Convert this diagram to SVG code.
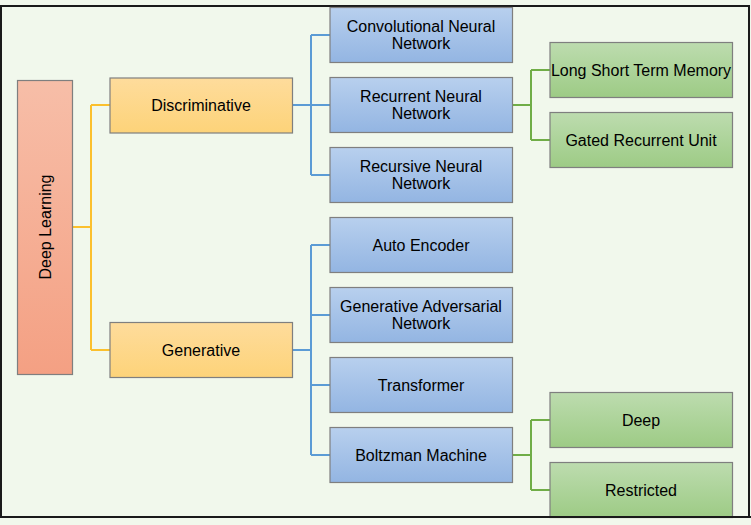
<svg xmlns="http://www.w3.org/2000/svg" width="751" height="525" viewBox="0 0 751 525">
<defs>
<linearGradient id="gR" x1="0" y1="0" x2="0" y2="1"><stop offset="0" stop-color="#f7bea8"/><stop offset="1" stop-color="#f4a083"/></linearGradient>
<linearGradient id="gY" x1="0" y1="0" x2="0" y2="1"><stop offset="0" stop-color="#fedc9c"/><stop offset="1" stop-color="#fdd379"/></linearGradient>
<linearGradient id="gB" x1="0" y1="0" x2="0" y2="1"><stop offset="0" stop-color="#b8d0ee"/><stop offset="1" stop-color="#93b5e2"/></linearGradient>
<linearGradient id="gG" x1="0" y1="0" x2="0" y2="1"><stop offset="0" stop-color="#bddcaf"/><stop offset="1" stop-color="#9dcb85"/></linearGradient>
<style>
.b{stroke:#7f7f7f;stroke-width:1.2}
.r{fill:url(#gR)}.y{fill:url(#gY)}.bl{fill:url(#gB)}.g{fill:url(#gG)}
text{font-family:"Liberation Sans",Arial,sans-serif;font-size:16px;fill:#000;text-anchor:middle}
.c{fill:none;stroke-width:2}
.cy{stroke:#fbc02d}.cb{stroke:#5b9bd5}.cg{stroke:#70ad47}
</style>
</defs>
<rect x="0" y="0" width="751" height="525" fill="#f1f8ec"/>
<rect x="1" y="6" width="748" height="511" fill="#f1f8ec" stroke="#1a1a1a" stroke-width="2"/>
<g id="connectors">
<path class="c cy" d="M73 227H91M91 105V350M91 105H110M91 350H110"/>
<path class="c cb" d="M292.5 105H311M311 35V175M311 35H330M311 105H330M311 175H330"/>
<path class="c cb" d="M292.5 350H311M311 245V455M311 245H330M311 315H330M311 385H330M311 455H330"/>
<path class="c cg" d="M512.5 105H531M531 70V140M531 70H550M531 140H550"/>
<path class="c cg" d="M512.5 455H531M531 420V490M531 420H550M531 490H550"/>
</g>
<g id="deep-learning"><rect class="b r" x="17.5" y="80.5" width="55" height="294"/><text transform="translate(45 227) rotate(-90)" y="5.5">Deep Learning</text></g>
<g id="discriminative"><rect class="b y" x="110" y="78" width="182.5" height="55"/><text x="201" y="111">Discriminative</text></g>
<g id="generative"><rect class="b y" x="110" y="322.5" width="182.5" height="55"/><text x="201" y="355.5">Generative</text></g>
<g id="cnn"><rect class="b bl" x="330" y="7.5" width="182.5" height="55"/><text x="421" y="32">Convolutional Neural</text><text x="421" y="49">Network</text></g>
<g id="rnn"><rect class="b bl" x="330" y="77.5" width="182.5" height="55"/><text x="421" y="102">Recurrent Neural</text><text x="421" y="119">Network</text></g>
<g id="recursive"><rect class="b bl" x="330" y="147.5" width="182.5" height="55"/><text x="421" y="172">Recursive Neural</text><text x="421" y="189">Network</text></g>
<g id="autoencoder"><rect class="b bl" x="330" y="217.5" width="182.5" height="55"/><text x="421" y="250.5">Auto Encoder</text></g>
<g id="gan"><rect class="b bl" x="330" y="287.5" width="182.5" height="55"/><text x="421" y="312">Generative Adversarial</text><text x="421" y="329">Network</text></g>
<g id="transformer"><rect class="b bl" x="330" y="357.5" width="182.5" height="55"/><text x="421" y="390.5">Transformer</text></g>
<g id="boltzman"><rect class="b bl" x="330" y="427.5" width="182.5" height="55"/><text x="421" y="460.5">Boltzman Machine</text></g>
<g id="lstm"><rect class="b g" x="550" y="42.5" width="182.5" height="55"/><text x="641" y="75.5">Long Short Term Memory</text></g>
<g id="gru"><rect class="b g" x="550" y="112.5" width="182.5" height="55"/><text x="641" y="145.5">Gated Recurrent Unit</text></g>
<g id="deep"><rect class="b g" x="550" y="392.5" width="182.5" height="55"/><text x="641" y="425.5">Deep</text></g>
<g id="restricted"><rect class="b g" x="550" y="462.5" width="182.5" height="55"/><text x="641" y="495.5">Restricted</text></g>
<line x1="0" y1="517" x2="751" y2="517" stroke="#1a1a1a" stroke-width="2"/>
</svg>
